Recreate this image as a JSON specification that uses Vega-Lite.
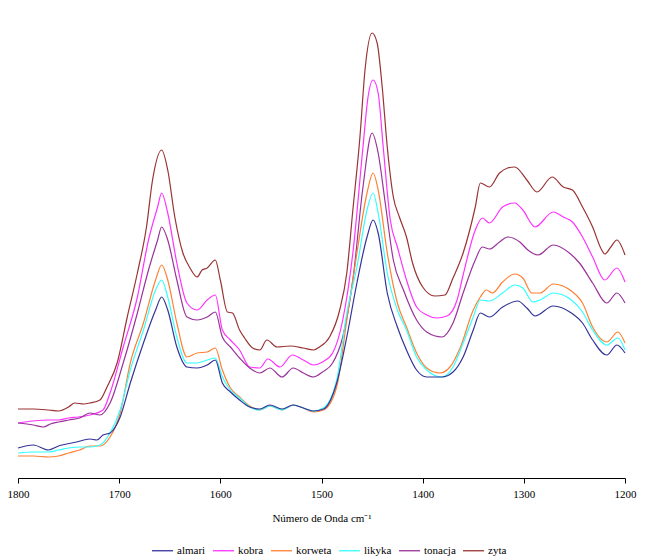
{
  "$schema": "https://vega.github.io/schema/vega-lite/v6.json",
  "width": 607,
  "height": 470,
  "padding": {"left": 7, "top": 8, "right": 10, "bottom": 4},
  "autosize": {"type": "pad"},
  "background": "white",
  "config": {
    "view": {"stroke": null},
    "font": "Times New Roman",
    "axis": {"labelFont": "Times New Roman", "titleFont": "Times New Roman"},
    "legend": {"labelFont": "Times New Roman"}
  },
  "datasets": {
    "spectra": [
      {"s":"zyta","w":1800,"a":0.069},{"s":"zyta","w":1785,"a":0.069},{"s":"zyta","w":1770,"a":0.068},{"s":"zyta","w":1760,"a":0.067},{"s":"zyta","w":1750,"a":0.071},{"s":"zyta","w":1744,"a":0.075},{"s":"zyta","w":1735,"a":0.074},{"s":"zyta","w":1729,"a":0.075},{"s":"zyta","w":1719,"a":0.078},{"s":"zyta","w":1712,"a":0.091},{"s":"zyta","w":1702,"a":0.115},{"s":"zyta","w":1692,"a":0.161},{"s":"zyta","w":1682,"a":0.205},{"s":"zyta","w":1673,"a":0.251},{"s":"zyta","w":1667,"a":0.298},{"s":"zyta","w":1658,"a":0.328},{"s":"zyta","w":1652,"a":0.308},{"s":"zyta","w":1645,"a":0.261},{"s":"zyta","w":1637,"a":0.225},{"s":"zyta","w":1630,"a":0.210},{"s":"zyta","w":1623,"a":0.201},{"s":"zyta","w":1618,"a":0.208},{"s":"zyta","w":1613,"a":0.210},{"s":"zyta","w":1605,"a":0.218},{"s":"zyta","w":1600,"a":0.198},{"s":"zyta","w":1593,"a":0.166},{"s":"zyta","w":1588,"a":0.165},{"s":"zyta","w":1581,"a":0.148},{"s":"zyta","w":1576,"a":0.140},{"s":"zyta","w":1568,"a":0.130},{"s":"zyta","w":1561,"a":0.128},{"s":"zyta","w":1554,"a":0.138},{"s":"zyta","w":1544,"a":0.131},{"s":"zyta","w":1531,"a":0.132},{"s":"zyta","w":1518,"a":0.130},{"s":"zyta","w":1508,"a":0.128},{"s":"zyta","w":1502,"a":0.131},{"s":"zyta","w":1492,"a":0.141},{"s":"zyta","w":1482,"a":0.168},{"s":"zyta","w":1475,"a":0.205},{"s":"zyta","w":1469,"a":0.268},{"s":"zyta","w":1462,"a":0.341},{"s":"zyta","w":1457,"a":0.408},{"s":"zyta","w":1450,"a":0.445},{"s":"zyta","w":1445,"a":0.435},{"s":"zyta","w":1440,"a":0.391},{"s":"zyta","w":1435,"a":0.331},{"s":"zyta","w":1429,"a":0.281},{"s":"zyta","w":1423,"a":0.261},{"s":"zyta","w":1416,"a":0.241},{"s":"zyta","w":1410,"a":0.215},{"s":"zyta","w":1400,"a":0.191},{"s":"zyta","w":1388,"a":0.182},{"s":"zyta","w":1378,"a":0.183},{"s":"zyta","w":1370,"a":0.200},{"s":"zyta","w":1360,"a":0.225},{"s":"zyta","w":1348,"a":0.271},{"s":"zyta","w":1343,"a":0.295},{"s":"zyta","w":1334,"a":0.291},{"s":"zyta","w":1324,"a":0.305},{"s":"zyta","w":1316,"a":0.310},{"s":"zyta","w":1309,"a":0.311},{"s":"zyta","w":1297,"a":0.298},{"s":"zyta","w":1287,"a":0.286},{"s":"zyta","w":1272,"a":0.301},{"s":"zyta","w":1261,"a":0.291},{"s":"zyta","w":1252,"a":0.288},{"s":"zyta","w":1242,"a":0.271},{"s":"zyta","w":1232,"a":0.251},{"s":"zyta","w":1223,"a":0.228},{"s":"zyta","w":1220,"a":0.224},{"s":"zyta","w":1214,"a":0.231},{"s":"zyta","w":1208,"a":0.238},{"s":"zyta","w":1200,"a":0.223},
      {"s":"kobra","w":1800,"a":0.055},{"s":"kobra","w":1785,"a":0.057},{"s":"kobra","w":1770,"a":0.058},{"s":"kobra","w":1760,"a":0.058},{"s":"kobra","w":1750,"a":0.060},{"s":"kobra","w":1740,"a":0.061},{"s":"kobra","w":1729,"a":0.063},{"s":"kobra","w":1716,"a":0.068},{"s":"kobra","w":1709,"a":0.085},{"s":"kobra","w":1696,"a":0.131},{"s":"kobra","w":1682,"a":0.181},{"s":"kobra","w":1671,"a":0.238},{"s":"kobra","w":1662,"a":0.271},{"s":"kobra","w":1658,"a":0.285},{"s":"kobra","w":1652,"a":0.265},{"s":"kobra","w":1643,"a":0.215},{"s":"kobra","w":1633,"a":0.175},{"s":"kobra","w":1623,"a":0.168},{"s":"kobra","w":1613,"a":0.178},{"s":"kobra","w":1605,"a":0.183},{"s":"kobra","w":1598,"a":0.148},{"s":"kobra","w":1590,"a":0.138},{"s":"kobra","w":1581,"a":0.128},{"s":"kobra","w":1571,"a":0.111},{"s":"kobra","w":1561,"a":0.110},{"s":"kobra","w":1553,"a":0.119},{"s":"kobra","w":1541,"a":0.111},{"s":"kobra","w":1529,"a":0.123},{"s":"kobra","w":1518,"a":0.118},{"s":"kobra","w":1508,"a":0.113},{"s":"kobra","w":1499,"a":0.116},{"s":"kobra","w":1489,"a":0.125},{"s":"kobra","w":1479,"a":0.158},{"s":"kobra","w":1469,"a":0.225},{"s":"kobra","w":1459,"a":0.331},{"s":"kobra","w":1454,"a":0.381},{"s":"kobra","w":1449,"a":0.398},{"s":"kobra","w":1444,"a":0.385},{"s":"kobra","w":1439,"a":0.331},{"s":"kobra","w":1432,"a":0.258},{"s":"kobra","w":1425,"a":0.231},{"s":"kobra","w":1416,"a":0.198},{"s":"kobra","w":1406,"a":0.171},{"s":"kobra","w":1396,"a":0.163},{"s":"kobra","w":1386,"a":0.160},{"s":"kobra","w":1376,"a":0.162},{"s":"kobra","w":1366,"a":0.178},{"s":"kobra","w":1360,"a":0.203},{"s":"kobra","w":1348,"a":0.248},{"s":"kobra","w":1341,"a":0.260},{"s":"kobra","w":1334,"a":0.255},{"s":"kobra","w":1321,"a":0.271},{"s":"kobra","w":1309,"a":0.275},{"s":"kobra","w":1301,"a":0.268},{"s":"kobra","w":1289,"a":0.251},{"s":"kobra","w":1271,"a":0.266},{"s":"kobra","w":1261,"a":0.261},{"s":"kobra","w":1252,"a":0.256},{"s":"kobra","w":1242,"a":0.241},{"s":"kobra","w":1232,"a":0.221},{"s":"kobra","w":1220,"a":0.198},{"s":"kobra","w":1208,"a":0.210},{"s":"kobra","w":1200,"a":0.196},
      {"s":"tonacja","w":1800,"a":0.055},{"s":"tonacja","w":1785,"a":0.053},{"s":"tonacja","w":1775,"a":0.051},{"s":"tonacja","w":1768,"a":0.054},{"s":"tonacja","w":1760,"a":0.056},{"s":"tonacja","w":1750,"a":0.058},{"s":"tonacja","w":1739,"a":0.060},{"s":"tonacja","w":1729,"a":0.065},{"s":"tonacja","w":1719,"a":0.063},{"s":"tonacja","w":1709,"a":0.075},{"s":"tonacja","w":1696,"a":0.115},{"s":"tonacja","w":1682,"a":0.165},{"s":"tonacja","w":1671,"a":0.208},{"s":"tonacja","w":1662,"a":0.238},{"s":"tonacja","w":1658,"a":0.251},{"s":"tonacja","w":1652,"a":0.238},{"s":"tonacja","w":1643,"a":0.198},{"s":"tonacja","w":1633,"a":0.161},{"s":"tonacja","w":1623,"a":0.158},{"s":"tonacja","w":1613,"a":0.161},{"s":"tonacja","w":1605,"a":0.166},{"s":"tonacja","w":1598,"a":0.141},{"s":"tonacja","w":1590,"a":0.131},{"s":"tonacja","w":1581,"a":0.120},{"s":"tonacja","w":1571,"a":0.110},{"s":"tonacja","w":1561,"a":0.105},{"s":"tonacja","w":1551,"a":0.110},{"s":"tonacja","w":1539,"a":0.101},{"s":"tonacja","w":1528,"a":0.110},{"s":"tonacja","w":1518,"a":0.105},{"s":"tonacja","w":1508,"a":0.101},{"s":"tonacja","w":1499,"a":0.106},{"s":"tonacja","w":1489,"a":0.115},{"s":"tonacja","w":1479,"a":0.141},{"s":"tonacja","w":1469,"a":0.198},{"s":"tonacja","w":1459,"a":0.291},{"s":"tonacja","w":1450,"a":0.345},{"s":"tonacja","w":1444,"a":0.325},{"s":"tonacja","w":1437,"a":0.275},{"s":"tonacja","w":1429,"a":0.218},{"s":"tonacja","w":1419,"a":0.188},{"s":"tonacja","w":1406,"a":0.158},{"s":"tonacja","w":1396,"a":0.146},{"s":"tonacja","w":1381,"a":0.141},{"s":"tonacja","w":1370,"a":0.155},{"s":"tonacja","w":1360,"a":0.185},{"s":"tonacja","w":1348,"a":0.218},{"s":"tonacja","w":1341,"a":0.231},{"s":"tonacja","w":1334,"a":0.229},{"s":"tonacja","w":1324,"a":0.236},{"s":"tonacja","w":1316,"a":0.241},{"s":"tonacja","w":1304,"a":0.236},{"s":"tonacja","w":1296,"a":0.228},{"s":"tonacja","w":1286,"a":0.223},{"s":"tonacja","w":1271,"a":0.233},{"s":"tonacja","w":1255,"a":0.225},{"s":"tonacja","w":1245,"a":0.215},{"s":"tonacja","w":1232,"a":0.195},{"s":"tonacja","w":1218,"a":0.175},{"s":"tonacja","w":1208,"a":0.185},{"s":"tonacja","w":1200,"a":0.175},
      {"s":"korweta","w":1800,"a":0.022},{"s":"korweta","w":1785,"a":0.022},{"s":"korweta","w":1770,"a":0.021},{"s":"korweta","w":1760,"a":0.022},{"s":"korweta","w":1750,"a":0.025},{"s":"korweta","w":1739,"a":0.028},{"s":"korweta","w":1729,"a":0.032},{"s":"korweta","w":1719,"a":0.032},{"s":"korweta","w":1709,"a":0.041},{"s":"korweta","w":1699,"a":0.065},{"s":"korweta","w":1689,"a":0.115},{"s":"korweta","w":1676,"a":0.155},{"s":"korweta","w":1664,"a":0.198},{"s":"korweta","w":1658,"a":0.213},{"s":"korweta","w":1652,"a":0.198},{"s":"korweta","w":1643,"a":0.155},{"s":"korweta","w":1633,"a":0.121},{"s":"korweta","w":1623,"a":0.125},{"s":"korweta","w":1613,"a":0.126},{"s":"korweta","w":1605,"a":0.130},{"s":"korweta","w":1598,"a":0.108},{"s":"korweta","w":1590,"a":0.090},{"s":"korweta","w":1581,"a":0.081},{"s":"korweta","w":1571,"a":0.072},{"s":"korweta","w":1561,"a":0.068},{"s":"korweta","w":1551,"a":0.072},{"s":"korweta","w":1539,"a":0.068},{"s":"korweta","w":1528,"a":0.073},{"s":"korweta","w":1518,"a":0.070},{"s":"korweta","w":1508,"a":0.066},{"s":"korweta","w":1498,"a":0.068},{"s":"korweta","w":1485,"a":0.091},{"s":"korweta","w":1475,"a":0.158},{"s":"korweta","w":1465,"a":0.225},{"s":"korweta","w":1455,"a":0.285},{"s":"korweta","w":1449,"a":0.305},{"s":"korweta","w":1444,"a":0.288},{"s":"korweta","w":1435,"a":0.225},{"s":"korweta","w":1425,"a":0.175},{"s":"korweta","w":1416,"a":0.151},{"s":"korweta","w":1406,"a":0.125},{"s":"korweta","w":1396,"a":0.110},{"s":"korweta","w":1383,"a":0.105},{"s":"korweta","w":1373,"a":0.111},{"s":"korweta","w":1363,"a":0.130},{"s":"korweta","w":1350,"a":0.168},{"s":"korweta","w":1343,"a":0.181},{"s":"korweta","w":1337,"a":0.188},{"s":"korweta","w":1331,"a":0.185},{"s":"korweta","w":1321,"a":0.196},{"s":"korweta","w":1309,"a":0.204},{"s":"korweta","w":1301,"a":0.200},{"s":"korweta","w":1292,"a":0.185},{"s":"korweta","w":1284,"a":0.185},{"s":"korweta","w":1271,"a":0.194},{"s":"korweta","w":1253,"a":0.187},{"s":"korweta","w":1242,"a":0.175},{"s":"korweta","w":1232,"a":0.151},{"s":"korweta","w":1218,"a":0.136},{"s":"korweta","w":1207,"a":0.146},{"s":"korweta","w":1200,"a":0.135},
      {"s":"likyka","w":1800,"a":0.025},{"s":"likyka","w":1785,"a":0.026},{"s":"likyka","w":1770,"a":0.026},{"s":"likyka","w":1760,"a":0.028},{"s":"likyka","w":1750,"a":0.030},{"s":"likyka","w":1739,"a":0.031},{"s":"likyka","w":1729,"a":0.031},{"s":"likyka","w":1719,"a":0.033},{"s":"likyka","w":1709,"a":0.045},{"s":"likyka","w":1699,"a":0.068},{"s":"likyka","w":1689,"a":0.108},{"s":"likyka","w":1676,"a":0.148},{"s":"likyka","w":1664,"a":0.188},{"s":"likyka","w":1658,"a":0.198},{"s":"likyka","w":1652,"a":0.181},{"s":"likyka","w":1643,"a":0.141},{"s":"likyka","w":1633,"a":0.115},{"s":"likyka","w":1623,"a":0.115},{"s":"likyka","w":1613,"a":0.118},{"s":"likyka","w":1605,"a":0.120},{"s":"likyka","w":1598,"a":0.101},{"s":"likyka","w":1590,"a":0.088},{"s":"likyka","w":1581,"a":0.080},{"s":"likyka","w":1571,"a":0.071},{"s":"likyka","w":1561,"a":0.068},{"s":"likyka","w":1551,"a":0.072},{"s":"likyka","w":1539,"a":0.068},{"s":"likyka","w":1528,"a":0.073},{"s":"likyka","w":1518,"a":0.070},{"s":"likyka","w":1508,"a":0.067},{"s":"likyka","w":1498,"a":0.070},{"s":"likyka","w":1485,"a":0.098},{"s":"likyka","w":1475,"a":0.165},{"s":"likyka","w":1465,"a":0.211},{"s":"likyka","w":1455,"a":0.268},{"s":"likyka","w":1449,"a":0.285},{"s":"likyka","w":1444,"a":0.265},{"s":"likyka","w":1435,"a":0.205},{"s":"likyka","w":1425,"a":0.168},{"s":"likyka","w":1416,"a":0.148},{"s":"likyka","w":1406,"a":0.121},{"s":"likyka","w":1396,"a":0.108},{"s":"likyka","w":1381,"a":0.101},{"s":"likyka","w":1370,"a":0.111},{"s":"likyka","w":1360,"a":0.135},{"s":"likyka","w":1350,"a":0.161},{"s":"likyka","w":1343,"a":0.178},{"s":"likyka","w":1334,"a":0.177},{"s":"likyka","w":1321,"a":0.185},{"s":"likyka","w":1309,"a":0.193},{"s":"likyka","w":1301,"a":0.190},{"s":"likyka","w":1291,"a":0.176},{"s":"likyka","w":1284,"a":0.178},{"s":"likyka","w":1271,"a":0.185},{"s":"likyka","w":1253,"a":0.178},{"s":"likyka","w":1242,"a":0.166},{"s":"likyka","w":1232,"a":0.148},{"s":"likyka","w":1218,"a":0.133},{"s":"likyka","w":1207,"a":0.140},{"s":"likyka","w":1200,"a":0.128},
      {"s":"almari","w":1800,"a":0.030},{"s":"almari","w":1785,"a":0.033},{"s":"almari","w":1770,"a":0.028},{"s":"almari","w":1760,"a":0.032},{"s":"almari","w":1742,"a":0.036},{"s":"almari","w":1729,"a":0.039},{"s":"almari","w":1722,"a":0.038},{"s":"almari","w":1716,"a":0.043},{"s":"almari","w":1709,"a":0.045},{"s":"almari","w":1699,"a":0.061},{"s":"almari","w":1689,"a":0.095},{"s":"almari","w":1676,"a":0.135},{"s":"almari","w":1664,"a":0.168},{"s":"almari","w":1658,"a":0.181},{"s":"almari","w":1652,"a":0.168},{"s":"almari","w":1643,"a":0.131},{"s":"almari","w":1633,"a":0.111},{"s":"almari","w":1623,"a":0.110},{"s":"almari","w":1613,"a":0.113},{"s":"almari","w":1605,"a":0.118},{"s":"almari","w":1598,"a":0.095},{"s":"almari","w":1590,"a":0.086},{"s":"almari","w":1581,"a":0.078},{"s":"almari","w":1571,"a":0.071},{"s":"almari","w":1561,"a":0.069},{"s":"almari","w":1551,"a":0.073},{"s":"almari","w":1539,"a":0.069},{"s":"almari","w":1528,"a":0.073},{"s":"almari","w":1518,"a":0.070},{"s":"almari","w":1508,"a":0.067},{"s":"almari","w":1498,"a":0.069},{"s":"almari","w":1485,"a":0.095},{"s":"almari","w":1475,"a":0.141},{"s":"almari","w":1465,"a":0.195},{"s":"almari","w":1455,"a":0.241},{"s":"almari","w":1449,"a":0.258},{"s":"almari","w":1444,"a":0.245},{"s":"almari","w":1435,"a":0.185},{"s":"almari","w":1425,"a":0.151},{"s":"almari","w":1416,"a":0.128},{"s":"almari","w":1406,"a":0.108},{"s":"almari","w":1396,"a":0.101},{"s":"almari","w":1381,"a":0.101},{"s":"almari","w":1370,"a":0.106},{"s":"almari","w":1360,"a":0.121},{"s":"almari","w":1350,"a":0.148},{"s":"almari","w":1343,"a":0.165},{"s":"almari","w":1334,"a":0.161},{"s":"almari","w":1321,"a":0.171},{"s":"almari","w":1306,"a":0.177},{"s":"almari","w":1297,"a":0.170},{"s":"almari","w":1289,"a":0.162},{"s":"almari","w":1271,"a":0.172},{"s":"almari","w":1253,"a":0.165},{"s":"almari","w":1242,"a":0.155},{"s":"almari","w":1232,"a":0.138},{"s":"almari","w":1218,"a":0.123},{"s":"almari","w":1208,"a":0.133},{"s":"almari","w":1200,"a":0.125}
    ]
  },
  "data": {"name": "spectra"},
  "mark": {"type": "line", "strokeWidth": 1.2, "interpolate": "monotone"},
  "encoding": {
    "x": {
      "field": "w",
      "type": "quantitative",
      "scale": {"domain": [1200, 1800], "reverse": true, "nice": false, "zero": false},
      "axis": {
        "values": [1800, 1700, 1600, 1500, 1400, 1300, 1200],
        "format": "d",
        "grid": false,
        "domainColor": "#000000",
        "tickColor": "#000000",
        "tickSize": 5,
        "labelFontSize": 11,
        "labelColor": "#000000",
        "labelPadding": 5,
        "labelFlush": false,
        "title": "Número de Onda cm⁻¹",
        "titleFontSize": 11,
        "titleFontWeight": "normal",
        "titleColor": "#000000",
        "titlePadding": 13
      }
    },
    "y": {
      "field": "a",
      "type": "quantitative",
      "scale": {"domain": [0, 0.47], "nice": false},
      "axis": null
    },
    "color": {
      "field": "s",
      "type": "nominal",
      "scale": {
        "domain": ["almari", "kobra", "korweta", "likyka", "tonacja", "zyta"],
        "range": ["#333399", "#ff33ff", "#ff8033", "#33ffff", "#993399", "#993333"]
      },
      "legend": {
        "orient": "none",
        "legendX": 133,
        "legendY": 531,
        "direction": "horizontal",
        "title": null,
        "symbolType": "stroke",
        "symbolStrokeWidth": 1.3,
        "symbolSize": 440,
        "labelFontSize": 11,
        "labelColor": "#000000",
        "labelOffset": 3,
        "columnPadding": 4
      }
    }
  }
}
